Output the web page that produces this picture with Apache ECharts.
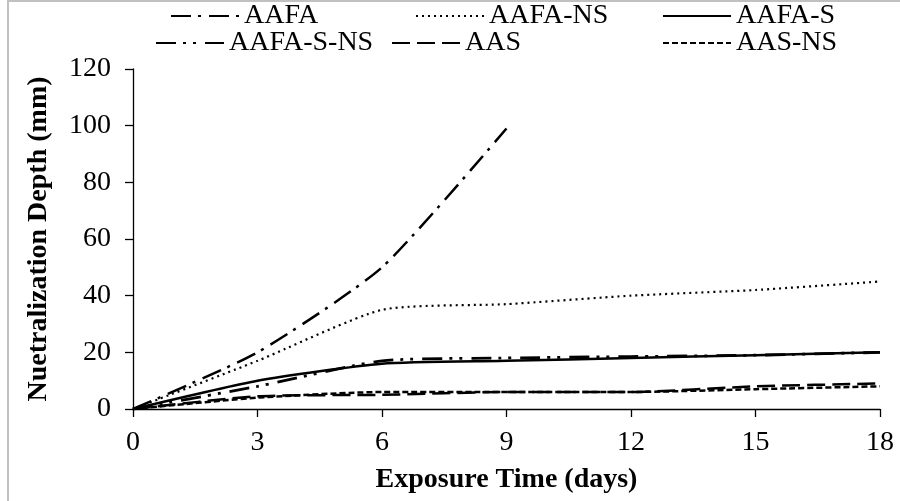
<!DOCTYPE html>
<html>
<head>
<meta charset="utf-8">
<script src="https://cdn.jsdelivr.net/npm/echarts@6/dist/echarts.min.js"></script>
<style>
  html, body { margin: 0; padding: 0; background: #fff; }
  #chart { width: 900px; height: 501px; }
</style>
</head>
<body>
<div id="chart"></div>
<script>
// exposure time (days)
var days = [0, 3, 6, 9, 12, 15, 18]
// neutralization depth (mm) per mix
var aafa = [0, 20, 50, 99]
var aafaNs = [0, 17, 35, 37, 40, 42, 45]
var aafaS = [0, 10, 16, 17, 18, 19, 20]
var aafaSNs = [0, 8, 17, 18, 18.5, 19, 20]
var aas = [0, 4.5, 5, 6, 6, 8, 9]
var aasNs = [0, 4, 6, 6, 6, 7, 8]

var names = ['AAFA', 'AAFA-NS', 'AAFA-S', 'AAFA-S-NS', 'AAS', 'AAS-NS']

function pairs(values) {
  return values.map(function (v, i) { return [days[i], v] })
}

var font = 'Liberation Serif'

var chartDom = document.getElementById('chart')
var myChart = echarts.init(chartDom)

// one legend per entry so the columns sit like the original
var legendPos = [
  { left: 170, top: 2 },
  { left: 415, top: 2 },
  { left: 662, top: 2 },
  { left: 155, top: 29 },
  { left: 391, top: 29 },
  { left: 662, top: 29 }
]
var legends = names.map(function (n, i) {
  return {
    data: [n],
    left: legendPos[i].left,
    top: legendPos[i].top,
    padding: 0,
    itemWidth: 68,
    itemHeight: 14,
    selectedMode: false,
    itemStyle: { color: 'transparent', borderWidth: 0 },
    textStyle: { fontFamily: font, fontSize: 28, color: '#000' }
  }
})

function line(name, values, width, type) {
  return {
    name: name,
    type: 'line',
    data: pairs(values),
    smooth: 0.2,
    symbol: 'none',
    showSymbol: false,
    color: '#000',
    lineStyle: { color: '#000', width: width, type: type },
    emphasis: { disabled: true }
  }
}

var option = {
  animation: false,
  backgroundColor: '#fff',
  graphic: [
    {
      type: 'rect',
      shape: { x: 8, y: 1, width: 1000, height: 600 },
      style: { fill: 'none', stroke: '#c0c0c0', lineWidth: 2 },
      silent: true
    }
  ],
  legend: legends,
  grid: { left: 133, right: 20, top: 69, bottom: 92 },
  xAxis: {
    type: 'value',
    min: 0,
    max: 18,
    interval: 3,
    name: 'Exposure Time (days)',
    nameLocation: 'middle',
    nameGap: 57,
    nameTextStyle: { fontFamily: font, fontSize: 28, fontWeight: 'bold', color: '#000' },
    axisLine: { lineStyle: { color: '#000', width: 1.3 } },
    axisTick: { show: true, length: 8, lineStyle: { color: '#000', width: 1.3 } },
    axisLabel: { fontFamily: font, fontSize: 28, color: '#000', margin: 20 },
    splitLine: { show: false }
  },
  yAxis: {
    type: 'value',
    min: 0,
    max: 120,
    interval: 20,
    name: 'Nuetralization Depth (mm)',
    nameLocation: 'middle',
    nameGap: 80,
    nameTextStyle: { fontFamily: font, fontSize: 28, fontWeight: 'bold', color: '#000' },
    axisLine: { show: true, lineStyle: { color: '#000', width: 1.3 } },
    axisTick: { show: true, length: 8, lineStyle: { color: '#000', width: 1.3 } },
    axisLabel: { fontFamily: font, fontSize: 28, color: '#000', margin: 22 },
    splitLine: { show: false }
  },
  series: [
    line('AAFA', aafa, 2.5, [20, 7, 3, 8]),
    line('AAFA-NS', aafaNs, 2.2, [2, 4]),
    line('AAFA-S', aafaS, 2.5, 'solid'),
    line('AAFA-S-NS', aafaSNs, 2.8, [20, 7, 3, 7, 3, 9]),
    line('AAS', aas, 2.5, [18, 7]),
    line('AAS-NS', aasNs, 2.5, [6, 3])
  ]
}
option && myChart.setOption(option)
</script>
</body>
</html>
